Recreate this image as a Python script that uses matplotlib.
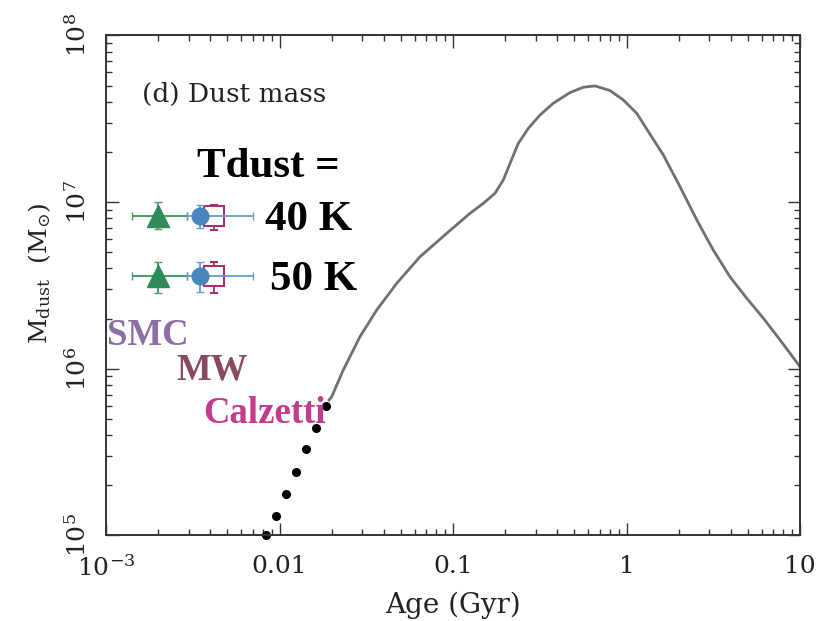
import matplotlib
matplotlib.use('Agg')
import matplotlib.pyplot as plt
from matplotlib.ticker import FixedLocator, LogLocator, NullFormatter

plt.rcParams['font.family'] = 'DejaVu Serif'
plt.rcParams['mathtext.fontset'] = 'dejavuserif'

# dust mass model curve (Gyr, Msun)
age = [0.0193, 0.0200, 0.0233, 0.0291, 0.0363, 0.0474, 0.0646, 0.0920, 0.1253,
       0.1496, 0.1746, 0.1950, 0.2133, 0.2377, 0.2716, 0.3170, 0.3784, 0.4721,
       0.5636, 0.6577, 0.8035, 0.9594, 1.1455, 1.3366, 1.6293, 2.0324, 2.5410,
       3.1623, 3.9446, 4.9317, 6.1518, 7.6736, 10.0]
mdust = [6.5e5, 6.81e5, 9.84e5, 1.56e6, 2.25e6, 3.26e6, 4.71e6, 6.50e6, 8.57e6,
         9.84e6, 1.13e7, 1.36e7, 1.71e7, 2.25e7, 2.77e7, 3.33e7, 3.92e7, 4.54e7,
         4.89e7, 4.98e7, 4.67e7, 4.10e7, 3.41e7, 2.65e7, 1.92e7, 1.24e7, 7.82e6,
         5.16e6, 3.57e6, 2.65e6, 2.01e6, 1.49e6, 1.03e6]

# early extrapolation (dotted)
dot_age = [0.00836, 0.00955, 0.01089, 0.01245, 0.01422, 0.01623, 0.01854]
dot_mass = [1.0e5, 1.31e5, 1.78e5, 2.41e5, 3.31e5, 4.43e5, 5.98e5]

# observed points for Tdust = 40 K and 50 K
row_mass = [8.26e6, 3.61e6]
green_x = 0.0020
green_xerr = [0.00141, 0.00294]
green_yerr = [[6.90e6, 1.00e7], [2.85e6, 4.38e6]]
blue_x = 0.00349
blue_xerr = [0.00294, 0.00705]
blue_yerr = [[7.0e6, 9.62e6], [2.90e6, 4.35e6]]
mag_x = 0.0042
mag_yerr = [[6.8e6, 9.62e6], [2.85e6, 4.38e6]]

row_labels = ['40 K', '50 K']
ext_labels = ['SMC', 'MW', 'Calzetti']
ext_colors = ['#8c6ea2', '#884a62', '#c43b8c']

xticks = [1e-3, 1e-2, 0.1, 1, 10]
xticklabels = ['$10^{-3}$', '0.01', '0.1', '1', '10']
yticks = [1e5, 1e6, 1e7, 1e8]
yticklabels = ['$10^{5}$', '$10^{6}$', '$10^{7}$', '$10^{8}$']

fig = plt.figure(figsize=(8.31, 6.21), dpi=100)
ax = fig.add_axes([0.1276, 0.1377, 0.8351, 0.8052])
ax.set_xscale('log')
ax.set_yscale('log')
ax.set_xlim(1e-3, 10)
ax.set_ylim(1e5, 1e8)

ax.plot(age, mdust, color='#707070', lw=2.0, solid_joinstyle='round')
ax.plot(dot_age, dot_mass, 'o', color='black', ms=5.5, ls='none', clip_on=False)

green = '#2e8b5a'
blue = '#4a86bd'
mag = '#a8306f'
for i, ym in enumerate(row_mass):
    ax.errorbar([green_x], [ym],
                xerr=[[green_x - green_xerr[0]], [green_xerr[1] - green_x]],
                yerr=[[ym - green_yerr[i][0]], [green_yerr[i][1] - ym]],
                fmt='none', ecolor='#4f9c70', elinewidth=1.5, capsize=3, zorder=3)
    ax.plot([green_x], [ym], marker='^', color=green, ms=16, ls='none', zorder=4)
    ax.errorbar([mag_x], [ym],
                yerr=[[ym - mag_yerr[i][0]], [mag_yerr[i][1] - ym]],
                fmt='s', mfc='white', mec=mag, mew=1.5, ms=15,
                ecolor=mag, elinewidth=1.3, capsize=3, zorder=4)
    ax.errorbar([blue_x], [ym],
                xerr=[[blue_x - blue_xerr[0]], [blue_xerr[1] - blue_x]],
                yerr=[[ym - blue_yerr[i][0]], [blue_yerr[i][1] - ym]],
                fmt='o', color=blue, ms=12, ecolor='#6a9ccc',
                elinewidth=1.3, capsize=3, zorder=5)

# ticks
ax.xaxis.set_major_locator(FixedLocator(xticks))
ax.set_xticklabels(xticklabels)
ax.yaxis.set_major_locator(FixedLocator(yticks))
ax.set_yticklabels(yticklabels)
ax.xaxis.set_minor_locator(LogLocator(base=10, subs=range(2, 10)))
ax.yaxis.set_minor_locator(LogLocator(base=10, subs=range(2, 10)))
ax.xaxis.set_minor_formatter(NullFormatter())
ax.yaxis.set_minor_formatter(NullFormatter())
ax.tick_params(which='both', direction='in', top=True, right=True,
               color='#333333', labelsize=18, labelcolor='#222222')
ax.tick_params(which='major', length=9, width=1.0)
ax.tick_params(which='minor', length=4, width=1.0)
ax.tick_params(axis='x', which='major', pad=14)
ax.tick_params(axis='y', which='major', pad=11)
for lab in ax.get_yticklabels():
    lab.set_rotation(90)
    lab.set_va('center')
for sp in ax.spines.values():
    sp.set_color('#333333')
    sp.set_linewidth(1.4)

ax.set_xlabel('Age (Gyr)', fontsize=20, color='#222222')
ax.xaxis.set_label_coords(0.5, -0.113)
ax.set_ylabel(r'$\mathrm{M_{dust}}$  (M$_{\odot}$)', fontsize=18, color='#222222')
ax.yaxis.set_label_coords(-0.076, 0.524)

ax.text(0.0519, 0.867, '(d) Dust mass', transform=ax.transAxes,
        fontsize=19, color='#222222', va='baseline')

bold = dict(family='Liberation Serif', weight='bold', va='baseline')
ax.text(0.1311, 0.717, 'Tdust =', transform=ax.transAxes, fontsize=31, **bold)
ax.text(0.229, 0.611, row_labels[0], transform=ax.transAxes, fontsize=31, **bold)
ax.text(0.2363, 0.491, row_labels[1], transform=ax.transAxes, fontsize=31, **bold)

ext_pos = [(0.0014, 0.381), (0.1009, 0.311), (0.1398, 0.225)]
for (tx, ty), lab, c in zip(ext_pos, ext_labels, ext_colors):
    ax.text(tx, ty, lab, transform=ax.transAxes, fontsize=26.5, color=c, **bold)

fig.savefig('out.png', dpi=100)
